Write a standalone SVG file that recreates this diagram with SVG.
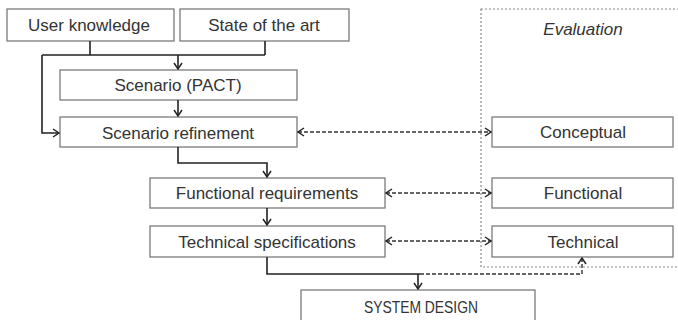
<svg xmlns="http://www.w3.org/2000/svg" width="678" height="320" viewBox="0 0 678 320">
<defs>
<style>
.box{fill:#fff;stroke:#7a7a7a;stroke-width:1.3}
.t{font-family:"Liberation Sans",Arial,sans-serif;font-size:17px;fill:#333;text-anchor:middle}
.it{font-style:italic}
.ln{fill:none;stroke:#222;stroke-width:1.6}
.dl{fill:none;stroke:#333;stroke-width:1.4;stroke-dasharray:4 2}
.eval{fill:none;stroke:#888;stroke-width:1.2;stroke-dasharray:2 2}
</style>
<marker id="ah" markerWidth="10" markerHeight="10" refX="8" refY="5" orient="auto-start-reverse" markerUnits="userSpaceOnUse">
<path d="M2,1 L8,5 L2,9" fill="none" stroke="#222" stroke-width="1.5"/>
</marker>
</defs>
<rect width="678" height="320" fill="#fff"/>
<g id="evaluation">
<rect class="eval" x="481" y="9" width="205" height="258"/>
<text class="t it" x="583" y="35">Evaluation</text>
</g>
<g id="user-knowledge"><rect class="box" x="7" y="9" width="167" height="32"/><text class="t" x="89" y="31">User knowledge</text></g>
<g id="state-of-the-art"><rect class="box" x="180" y="9" width="169" height="32"/><text class="t" x="264" y="31">State of the art</text></g>
<g id="scenario-pact"><rect class="box" x="60" y="70" width="237" height="30"/><text class="t" x="178" y="91">Scenario (PACT)</text></g>
<g id="scenario-refinement"><rect class="box" x="60" y="117" width="237" height="30"/><text class="t" x="178" y="139">Scenario refinement</text></g>
<g id="functional-requirements"><rect class="box" x="150" y="178" width="235" height="30"/><text class="t" x="267" y="199">Functional requirements</text></g>
<g id="technical-specifications"><rect class="box" x="150" y="226" width="235" height="31"/><text class="t" x="267" y="248">Technical specifications</text></g>
<g id="system-design"><rect class="box" x="301" y="290" width="234" height="40"/><text class="t" x="421" y="313" textLength="114" lengthAdjust="spacingAndGlyphs">SYSTEM DESIGN</text></g>
<g id="conceptual"><rect class="box" x="492" y="117" width="181" height="30"/><text class="t" x="583" y="138">Conceptual</text></g>
<g id="functional"><rect class="box" x="492" y="178" width="181" height="30"/><text class="t" x="583" y="199">Functional</text></g>
<g id="technical"><rect class="box" x="492" y="226" width="181" height="31"/><text class="t" x="583" y="248">Technical</text></g>
<g id="connectors">
<path class="ln" d="M90,41 V55 M265,41 V55 M42,55 H265"/>
<path class="ln" d="M178,55 V69" marker-end="url(#ah)"/>
<path class="ln" d="M42,55 V133 H59" marker-end="url(#ah)"/>
<path class="ln" d="M178,100 V116" marker-end="url(#ah)"/>
<path class="ln" d="M178,147 V163 H267 V177" marker-end="url(#ah)"/>
<path class="ln" d="M267,208 V225" marker-end="url(#ah)"/>
<path class="ln" d="M267,257 V274 H420"/>
<path class="ln" d="M418,274 V289" marker-end="url(#ah)"/>
<path class="dl" d="M420,274 H582 V258" marker-end="url(#ah)"/>
<path class="dl" d="M298,132 H491" marker-start="url(#ah)" marker-end="url(#ah)"/>
<path class="dl" d="M386,193 H491" marker-start="url(#ah)" marker-end="url(#ah)"/>
<path class="dl" d="M386,241 H491" marker-start="url(#ah)" marker-end="url(#ah)"/>
</g>
</svg>
